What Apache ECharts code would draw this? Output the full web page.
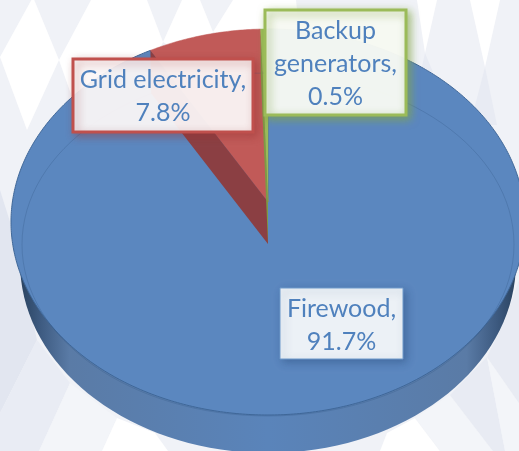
<!DOCTYPE html>
<html>
<head>
<meta charset="utf-8">
<style>html,body{margin:0;padding:0;background:#fff}#main{width:519px;height:451px}</style>
<script src="https://cdn.jsdelivr.net/npm/echarts@6/dist/echarts.min.js"></script>
</head>
<body>
<div id="main"></div>
<script>
// values
const categories = ['Firewood', 'Grid electricity', 'Backup generators'];
const shares = [91.7, 7.8, 0.5];
const labelLines = [['Firewood,', '91.7%'], ['Grid electricity,', '7.8%'], ['Backup', 'generators,', '0.5%']];
const sliceColors = ['#5b87bf', '#c15a58', '#9bbb59'];
const faceColors = ['#4a6f9f', '#8b3f43', '#7d9a45'];
const borderColors = ['#6f9acb', '#c0504d', '#9bbb59'];
const shadowColors = ['rgba(40,70,120,0.45)', 'rgba(150,50,50,0.45)', 'rgba(130,165,70,0.75)'];

// geometry of the tilted pie, in pixels
const cx = 268;
const rim = { cy: 222, rx: 257, ry: 193, apex: 202 };
const floor = { cy: 244.5, rx: 246, ry: 171.5, apex: 244 };
const base = { cy: 262, rx: 248, ry: 191 };
const tilt = 1.35;
const boxes = [
    { x: 280, y: 288, w: 123, h: 71, lw: 1, dy: 2, fill: '#ecf1f6' },
    { x: 73, y: 59, w: 180, h: 73, lw: 3, dy: 1, fill: 'rgba(255,255,255,0.9)' },
    { x: 265, y: 10, w: 141, h: 105, lw: 3, dy: 1, fill: 'rgba(255,255,255,0.9)' }
];

// share of the circle -> point on an ellipse, along the ray from its apex
function rimPoint(e, phi) {
    const dx = Math.sin(phi) * tilt, dy = -Math.cos(phi);
    const off = e.apex - e.cy;
    const a = dx * dx / (e.rx * e.rx) + dy * dy / (e.ry * e.ry);
    const b = 2 * dy * off / (e.ry * e.ry);
    const c = off * off / (e.ry * e.ry) - 1;
    const t = (-b + Math.sqrt(b * b - 4 * a * c)) / (2 * a);
    return [cx + dx * t, e.apex + dy * t];
}

const total = shares.reduce((s, v) => s + v, 0);

function renderSlice(params, api) {
    const i = params.dataIndex;
    let before = 0;
    for (let k = 0; k < i; k++) before += shares[k];
    const a0 = before / total * Math.PI * 2;
    const a1 = a0 + api.value(0) / total * Math.PI * 2;

    const pts = [[cx, rim.apex]];
    const steps = Math.max(2, Math.ceil((a1 - a0) * 90));
    for (let s = 0; s <= steps; s++) pts.push(rimPoint(rim, a0 + (a1 - a0) * s / steps));

    const children = [];
    if (i === 0) {
        children.push({
            type: 'ellipse', z2: 1,
            shape: { cx: cx, cy: base.cy, rx: base.rx, ry: base.ry },
            style: {
                fill: {
                    type: 'linear', x: 0, y: 0, x2: 1, y2: 0,
                    colorStops: [
                        { offset: 0, color: '#2a4360' }, { offset: 0.04, color: '#3d5a80' },
                        { offset: 0.1, color: '#5a7ba6' }, { offset: 0.5, color: '#5a84ba' },
                        { offset: 0.9, color: '#5a7ba6' }, { offset: 0.96, color: '#3d5a80' },
                        { offset: 1, color: '#2a4360' }
                    ]
                }
            }
        });
    }
    children.push({
        type: 'polygon', z2: 2, shape: { points: pts },
        style: { fill: sliceColors[i], stroke: i === 0 ? '#3f6798' : sliceColors[i], lineWidth: i === 0 ? 1 : 0.5 }
    });
    if (i === 0) {
        children.push({
            type: 'ellipse', z2: 3,
            shape: { cx: cx, cy: floor.cy, rx: floor.rx, ry: floor.ry },
            style: { fill: 'none', stroke: 'rgba(45,80,125,0.25)', lineWidth: 1 }
        });
    } else {
        // inner wall of the wedge, on its left side
        children.push({
            type: 'polygon', z2: 4,
            shape: { points: [[cx, rim.apex], [cx, floor.apex], rimPoint(floor, a0), rimPoint(rim, a0)] },
            style: { fill: faceColors[i] }
        });
    }

    const box = boxes[i];
    children.push({
        type: 'rect', z2: 10,
        shape: { x: box.x, y: box.y, width: box.w, height: box.h },
        style: {
            fill: box.fill, stroke: borderColors[i], lineWidth: box.lw,
            shadowBlur: 8, shadowOffsetX: 3, shadowOffsetY: 3, shadowColor: shadowColors[i]
        }
    });
    children.push({
        type: 'text', z2: 11,
        style: {
            text: labelLines[i].join('\n'),
            x: box.x + box.w / 2, y: box.y + box.h / 2 + box.dy,
            align: 'center', verticalAlign: 'middle',
            font: '25px Lato', lineHeight: 33, fill: '#4f81bd'
        }
    });
    return { type: 'group', children: children };
}

// washed-out diamond pattern behind the pie
const backdrop = [
    { fill: '#e2e6f0', pts: [[0, 190], [11, 225], [37, 340], [0, 413]] },
    { fill: '#e9ecf4', pts: [[37, 340], [70, 383], [39, 451], [0, 451], [0, 413]] },
    { fill: '#f3f5f9', pts: [[70, 383], [117, 418], [102, 451], [39, 451]] },
    { fill: '#ffffff', pts: [[117, 418], [155, 433], [168, 451], [102, 451]] },
    { fill: '#ffffff', pts: [[33, -3], [59, 60], [27, 130], [0, 57]] },
    { fill: '#ffffff', pts: [[91, 0], [147, 0], [163, 42], [150, 70], [72, 97], [59, 60]] },
    { fill: '#ffffff', pts: [[163, 42], [182, 0], [200, 0], [213, 32], [190, 60]] },
    { fill: '#ffffff', pts: [[213, 32], [233, 0], [296, 0], [300, 40], [240, 50]] },
    { fill: '#ffffff', pts: [[417, 0], [437, 0], [425, 53]] },
    { fill: '#ffffff', pts: [[470, 0], [500, 0], [485, 67]] },
    { fill: '#e8ebf3', pts: [[425, 53], [433, 72], [420, 75]] },
    { fill: '#e8ebf3', pts: [[485, 67], [497, 125], [470, 125]] },
    { fill: '#ffffff', pts: [[380, 451], [387, 433], [415, 418], [440, 451]] },
    { fill: '#f3f5f9', pts: [[415, 418], [450, 395], [493, 451], [440, 451]] },
    { fill: '#e8ebf3', pts: [[450, 395], [487, 357], [505, 451], [493, 451]] },
    { fill: '#f3f5f9', pts: [[487, 357], [519, 403], [519, 451], [505, 451]] },
    { fill: '#e8ebf3', pts: [[487, 357], [505, 320], [519, 280], [519, 403]] }
];

const chart = echarts.init(document.getElementById('main'), null, { renderer: 'canvas' });
chart.setOption({
    animation: false,
    backgroundColor: '#f0f2f7',
    graphic: {
        elements: backdrop.map(b => ({
            type: 'polygon', z: -1, shape: { points: b.pts }, style: { fill: b.fill }
        }))
    },
    series: [{
        type: 'custom',
        name: 'Energy source',
        coordinateSystem: 'none',
        silent: true,
        renderItem: renderSlice,
        data: categories.map((c, i) => ({ name: c, value: [shares[i]] }))
    }]
});
</script>
</body>
</html>
